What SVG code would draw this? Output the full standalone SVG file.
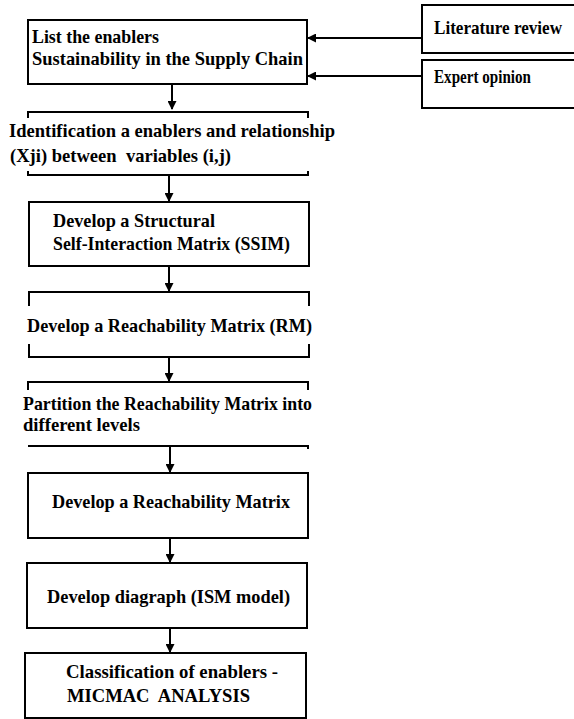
<svg xmlns="http://www.w3.org/2000/svg" width="574" height="719" viewBox="0 0 574 719">
<style>
.box{fill:#fff;stroke:#000;stroke-width:2}
.br{fill:none;stroke:#000;stroke-width:2}
.t{font-family:"Liberation Serif","Times New Roman",serif;font-weight:bold;font-size:19px;fill:#000}
.c{stroke:#000;stroke-width:2;fill:none}
</style>
<defs>
<marker id="ah" markerWidth="9" markerHeight="9" refX="8" refY="4.5" orient="auto" markerUnits="userSpaceOnUse">
<path d="M0,0 L9,4.5 L0,9 Z" fill="#000"/>
</marker>
</defs>
<rect width="574" height="719" fill="#fff"/>
<g id="n1">
<rect class="box" x="28" y="20" width="279" height="64"/>
<text class="t" x="32" y="43" textLength="127" lengthAdjust="spacingAndGlyphs">List the enablers</text>
<text class="t" x="32" y="65" textLength="271" lengthAdjust="spacingAndGlyphs">Sustainability in the Supply Chain</text>
</g>
<g id="lit">
<rect class="box" x="422" y="5" width="170" height="48"/>
<text class="t" x="434" y="34" textLength="128" lengthAdjust="spacingAndGlyphs">Literature review</text>
</g>
<g id="exp">
<rect class="box" x="422" y="60" width="170" height="48"/>
<text class="t" x="434" y="83" textLength="97" lengthAdjust="spacingAndGlyphs">Expert opinion</text>
</g>
<g id="n2">
<path class="br" d="M28,118 V112 H308 V118 M28,171 V175 H308 V171"/>
<text class="t" x="9" y="137" textLength="326" lengthAdjust="spacingAndGlyphs">Identification a enablers and relationship</text>
<text class="t" x="10" y="162" textLength="221" lengthAdjust="spacingAndGlyphs" xml:space="preserve">(Xji) between  variables (i,j)</text>
</g>
<g id="n3">
<rect class="box" x="29" y="202" width="280" height="64"/>
<text class="t" x="53" y="227" textLength="162" lengthAdjust="spacingAndGlyphs">Develop a Structural</text>
<text class="t" x="53" y="250" textLength="237" lengthAdjust="spacingAndGlyphs">Self-Interaction Matrix (SSIM)</text>
</g>
<g id="n4">
<path class="br" d="M29,306 V292 H309 V306 M29,344 V357 H309 V344"/>
<text class="t" x="27" y="332" textLength="285" lengthAdjust="spacingAndGlyphs">Develop a Reachability Matrix (RM)</text>
</g>
<g id="n5">
<path class="br" d="M28,390 V382 H308 V390 M28,446 H308 V449"/>
<text class="t" x="23" y="410" textLength="289" lengthAdjust="spacingAndGlyphs">Partition the Reachability Matrix into</text>
<text class="t" x="23" y="431" textLength="117" lengthAdjust="spacingAndGlyphs">different levels</text>
</g>
<g id="n6">
<rect class="box" x="28" y="473" width="280" height="65"/>
<text class="t" x="52" y="508" textLength="238" lengthAdjust="spacingAndGlyphs">Develop a Reachability Matrix</text>
</g>
<g id="n7">
<rect class="box" x="27" y="563" width="280" height="65"/>
<text class="t" x="47" y="603" textLength="243" lengthAdjust="spacingAndGlyphs">Develop diagraph (ISM model)</text>
</g>
<g id="n8">
<rect class="box" x="25" y="653" width="281" height="65"/>
<text class="t" x="66" y="678" textLength="212" lengthAdjust="spacingAndGlyphs">Classification of enablers -</text>
<text class="t" x="67" y="702" textLength="183" lengthAdjust="spacingAndGlyphs" xml:space="preserve">MICMAC  ANALYSIS</text>
</g>
<g id="connectors">
<line class="c" x1="422" y1="38" x2="308" y2="38" marker-end="url(#ah)"/>
<line class="c" x1="422" y1="76" x2="308" y2="76" marker-end="url(#ah)"/>
<line class="c" x1="172" y1="85" x2="172" y2="109" marker-end="url(#ah)"/>
<line class="c" x1="169" y1="176" x2="169" y2="201" marker-end="url(#ah)"/>
<line class="c" x1="169" y1="267" x2="169" y2="291" marker-end="url(#ah)"/>
<line class="c" x1="169" y1="358" x2="169" y2="381" marker-end="url(#ah)"/>
<line class="c" x1="170" y1="447" x2="170" y2="472" marker-end="url(#ah)"/>
<line class="c" x1="170" y1="539" x2="170" y2="562" marker-end="url(#ah)"/>
<line class="c" x1="170" y1="629" x2="170" y2="652" marker-end="url(#ah)"/>
</g>
</svg>
